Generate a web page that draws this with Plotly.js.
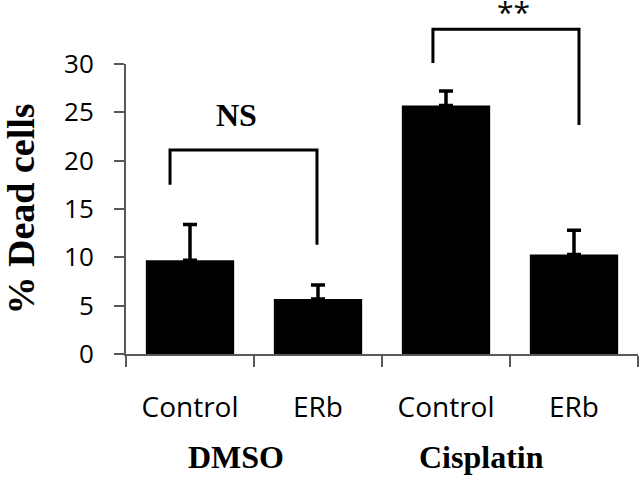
<!DOCTYPE html>
<html>
<head>
<meta charset="utf-8">
<script src="https://cdn.plot.ly/plotly-3.0.1.min.js"></script>
<style>html,body{margin:0;padding:0;background:#fff}#chart{width:640px;height:480px}</style>
</head>
<body>
<div id="chart"></div>
<script>
// ---- data ----
var groups = ["DMSO", "Cisplatin"];
var conditions = ["Control", "ERb", "Control", "ERb"];
var deadCells = [9.7, 5.7, 25.7, 10.3];
var errUp = [3.7, 1.45, 1.5, 2.5];
var yTicks = [0, 5, 10, 15, 20, 25, 30];
// significance brackets: [x left, x right, left foot, top, right foot, label]
var bracketNS = [-0.156, 0.992, 17.5, 21.1, 11.3, "NS"];
var bracketStar = [1.898, 3.039, 30.1, 33.6, 23.7, "**"];

var idx = conditions.map(function (_, i) { return i; });
var yMax = 30;

function bracketPath(b) {
  var p = function (v) { return (v / yMax).toFixed(4); };
  return "M " + b[0] + " " + p(b[2]) + " L " + b[0] + " " + p(b[3]) +
         " L " + b[1] + " " + p(b[3]) + " L " + b[1] + " " + p(b[4]);
}

var trace = {
  type: "bar",
  x: idx,
  y: deadCells,
  width: 0.69,
  marker: { color: "#000000", line: { width: 0 } },
  error_y: {
    type: "data", symmetric: false, array: errUp,
    arrayminus: deadCells.map(function () { return 0; }),
    color: "#000000", thickness: 3.5, width: 7
  },
  hoverinfo: "skip"
};

var axisColor = "#595959";
var layout = {
  width: 640, height: 480,
  margin: { l: 126, r: 2, t: 64, b: 126 },
  paper_bgcolor: "#ffffff", plot_bgcolor: "#ffffff",
  showlegend: false,
  xaxis: {
    range: [-0.5, 3.5],
    tickmode: "array", tickvals: idx, ticktext: conditions,
    ticks: "", showgrid: false, zeroline: false,
    showline: true, linecolor: axisColor, linewidth: 2,
    tickfont: { family: "Open Sans", size: 28, color: "#000" },
    ticklabelstandoff: 27,
    minor: { tickmode: "array", tickvals: [-0.5, 0.5, 1.5, 2.5, 3.5], ticks: "outside",
             ticklen: 11, tickwidth: 2, tickcolor: axisColor, showgrid: false }
  },
  yaxis: {
    range: [0, yMax],
    tickmode: "array", tickvals: yTicks,
    ticks: "outside", ticklen: 10, tickwidth: 2, tickcolor: axisColor,
    showgrid: false, zeroline: false,
    showline: true, linecolor: axisColor, linewidth: 2,
    tickfont: { family: "Open Sans", size: 26, color: "#000" },
    ticklabelstandoff: 15,
    title: { text: "% Dead cells", standoff: 40,
             font: { family: "Liberation Serif", size: 38, color: "#000", weight: "bold" } }
  },
  shapes: [bracketNS, bracketStar].map(function (b) {
    return { type: "path", xref: "x", yref: "paper", path: bracketPath(b),
             line: { color: "#000", width: 3 } };
  }),
  annotations: [
    { xref: "x", yref: "paper", x: 0.36, y: 24.7 / yMax, yanchor: "middle", xanchor: "center",
      text: "<b>" + bracketNS[5] + "</b>",
      showarrow: false, font: { family: "Liberation Serif", size: 32, color: "#000" } },
    { xref: "x", yref: "paper", x: 2.53, y: 35.45 / yMax, yanchor: "middle", xanchor: "center",
      text: bracketStar[5],
      showarrow: false, font: { family: "Open Sans", size: 30, color: "#000" } },
    { xref: "x", yref: "paper", x: 0.36, y: -0.355, yanchor: "middle", xanchor: "center",
      text: "<b>" + groups[0] + "</b>",
      showarrow: false, font: { family: "Liberation Serif", size: 32, color: "#000" } },
    { xref: "x", yref: "paper", x: 2.28, y: -0.355, yanchor: "middle", xanchor: "center",
      text: "<b>" + groups[1] + "</b>",
      showarrow: false, font: { family: "Liberation Serif", size: 32, color: "#000" } }
  ]
};

Plotly.newPlot("chart", [trace], layout, { displayModeBar: false, staticPlot: true });
</script>
</body>
</html>
